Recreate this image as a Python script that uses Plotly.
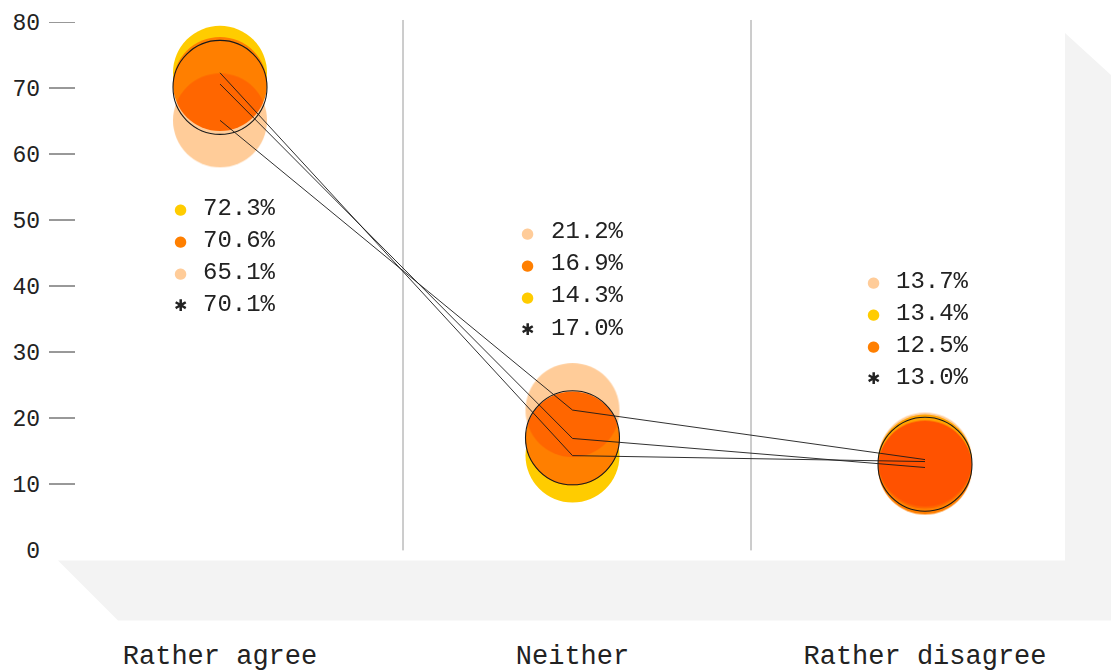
import plotly.graph_objects as go

# ---------------- data ----------------
categories = ["Rather agree", "Neither", "Rather disagree"]
series_yellow = [72.3, 14.3, 13.4]
series_orange = [70.6, 16.9, 12.5]
series_peach = [65.1, 21.2, 13.7]
average = [70.1, 17.0, 13.0]
y_ticks = [0, 10, 20, 30, 40, 50, 60, 70, 80]

# ---------------- style ----------------
W, H = 1111, 671
PL, PR, PT, PB = 49, 1111, 22, 549.6      # plot area in pixels
CAT_PX = [220, 572.5, 925]
SPACING = CAT_PX[1] - CAT_PX[0]
X_RANGE = [-(CAT_PX[0] - PL) / SPACING, (PR - CAT_PX[0]) / SPACING]
Y_RANGE = [0, 80]
PX_PER_UNIT = (PB - PT) / (Y_RANGE[1] - Y_RANGE[0])

FONT = "Liberation Mono"
TXT = "#222222"
C_YELLOW, C_ORANGE, C_PEACH = "#FFCC00", "#FF7F00", "#FFCC99"
BUBBLE = 94
DOT_SHIFT = [-40, -45, -52]
TEXT_SHIFT = [-19, -24, -31]


def px(x):
    return (x - PL) / (PR - PL)


def py(y):
    return (PB - y) / (PB - PT)


xs = list(range(len(categories)))
fig = go.Figure()

series = [
    ("Series A", series_yellow, C_YELLOW, "yellow"),
    ("Series B", series_orange, C_ORANGE, "orange"),
    ("Series C", series_peach, C_PEACH, "peach"),
]
for name, vals, col, uid in series:
    fig.add_trace(go.Scatter(
        x=xs, y=vals, mode="markers", name=name, uid=uid,
        marker=dict(size=BUBBLE, color=col, line=dict(width=0)),
        hoverinfo="skip", showlegend=False))

for name, vals, col, uid in series:
    fig.add_trace(go.Scatter(
        x=xs, y=vals, mode="lines", line=dict(color="#1a1a1a", width=0.9),
        hoverinfo="skip", showlegend=False))

fig.add_trace(go.Scatter(
    x=xs, y=average, mode="markers", name="Average",
    marker=dict(size=BUBBLE, color="rgba(0,0,0,0)", line=dict(width=1.1, color="#1a1a1a")),
    hoverinfo="skip", showlegend=False))

# ---------------- value labels ----------------
annotations = []
ROW = 32
for i, cat in enumerate(categories):
    items = sorted([(series_yellow[i], C_YELLOW), (series_orange[i], C_ORANGE),
                    (series_peach[i], C_PEACH)], key=lambda t: -t[0])
    items.append((average[i], None))
    vals_i = [series_yellow[i], series_orange[i], series_peach[i]]
    if i == 0:
        top_px = (PB - min(vals_i) * PX_PER_UNIT) + 88
    else:
        top_px = (PB - max(vals_i) * PX_PER_UNIT) - 178
    for r, (v, col) in enumerate(items):
        ypix = top_px + r * ROW
        yval = (PB - ypix) / PX_PER_UNIT
        if col is None:
            annotations.append(dict(x=i, y=yval, xref="x", yref="y", text="✱",
                                    showarrow=False, xanchor="center", yanchor="middle",
                                    xshift=DOT_SHIFT[i], yshift=-1,
                                    font=dict(family="DejaVu Sans", size=16, color=TXT)))
        else:
            annotations.append(dict(x=i, y=yval, xref="x", yref="y", text="●",
                                    showarrow=False, xanchor="center", yanchor="middle",
                                    xshift=DOT_SHIFT[i], yshift=-1,
                                    font=dict(family="DejaVu Sans", size=15, color=col)))
        annotations.append(dict(x=i, y=yval, xref="x", yref="y", text=f"{v:.1f}%",
                                showarrow=False, xanchor="left", yanchor="middle",
                                xshift=TEXT_SHIFT[i], font=dict(family=FONT, size=24, color=TXT)))

# ---------------- decoration shapes ----------------
shapes = []
room = [(58, 560), (1065, 560), (1065, 33), (1111, 75), (1111, 620), (118, 620)]
path = "M " + " L ".join(f"{px(a):.5f},{py(b):.5f}" for a, b in room) + " Z"
shapes.append(dict(type="path", path=path, xref="paper", yref="paper",
                   fillcolor="#F3F3F3", line=dict(width=0), layer="below"))
for dpx in (403, 751):
    dx = (dpx - CAT_PX[0]) / SPACING
    shapes.append(dict(type="line", xref="x", yref="paper", x0=dx, x1=dx,
                       y0=py(550), y1=py(20), line=dict(color="#9a9a9a", width=1),
                       layer="below"))
for t in y_ticks:
    if t == 0:
        continue
    shapes.append(dict(type="line", xref="paper", yref="y", x0=px(49), x1=px(75),
                       y0=t, y1=t, line=dict(color="#333333", width=1), layer="below"))

fig.update_layout(
    width=W, height=H,
    margin=dict(l=PL, r=W - PR, t=PT, b=H - PB),
    paper_bgcolor="white", plot_bgcolor="rgba(0,0,0,0)",
    showlegend=False,
    xaxis=dict(range=X_RANGE, tickvals=xs, ticktext=categories, showgrid=False,
               zeroline=False, showline=False, ticks="", ticklabelstandoff=86,
               automargin=False,
               tickfont=dict(family=FONT, size=27, color=TXT), fixedrange=True),
    yaxis=dict(range=Y_RANGE, tickvals=y_ticks, showgrid=False, zeroline=False,
               showline=False, ticks="", ticklabelstandoff=8, automargin=False,
               tickfont=dict(family=FONT, size=23, color=TXT), fixedrange=True),
    shapes=shapes, annotations=annotations,
)

post = """
var s=document.createElement('style');
s.innerHTML='body{margin:0;overflow:hidden} .tracepeach path.point{mix-blend-mode:multiply} .traceorange path.point:nth-child(3){mix-blend-mode:multiply}';
document.head.appendChild(s);
"""
fig.write_html("out.html", post_script=post, config={"displayModeBar": False})
